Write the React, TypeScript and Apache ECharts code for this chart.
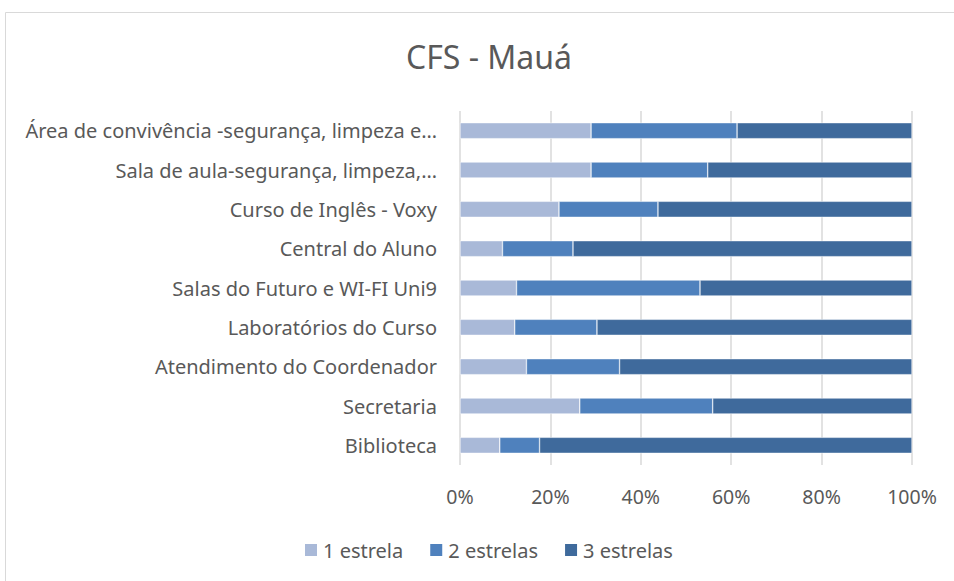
import React, { useEffect, useRef } from "react";
import * as echarts from "echarts";

const categories = [
  "Área de convivência -segurança, limpeza e…",
  "Sala de aula-segurança, limpeza,…",
  "Curso de Inglês - Voxy",
  "Central do Aluno",
  "Salas do Futuro e WI-FI Uni9",
  "Laboratórios do Curso",
  "Atendimento do Coordenador",
  "Secretaria",
  "Biblioteca",
];

const seriesNames = ["1 estrela", "2 estrelas", "3 estrelas"];

const umaEstrela = [29.0, 29.0, 21.9, 9.4, 12.5, 12.1, 14.7, 26.5, 8.8];
const duasEstrelas = [32.3, 25.8, 21.9, 15.6, 40.6, 18.2, 20.6, 29.4, 8.8];
const tresEstrelas = [38.7, 45.2, 56.2, 75.0, 46.9, 69.7, 64.7, 44.1, 82.4];

const xTicks = [0, 20, 40, 60, 80, 100];

const colors = ["#A9B9D8", "#4F81BD", "#3F6A9C"];
const FONT = "Noto Sans";

export default function App() {
  const ref = useRef<HTMLDivElement>(null);

  useEffect(() => {
    if (!ref.current) return;
    const chart = echarts.init(ref.current, undefined, { renderer: "svg" });
    const values = [umaEstrela, duasEstrelas, tresEstrelas];
    chart.setOption({
      animation: false,
      backgroundColor: "#ffffff",
      color: colors,
      title: {
        text: "CFS - Mauá",
        left: 401,
        top: 35,
        textStyle: {
          fontFamily: FONT,
          fontSize: 32,
          fontWeight: "normal",
          color: "#595959",
        },
      },
      graphic: [
        {
          type: "rect",
          shape: { x: 5.5, y: 12.5, width: 1000, height: 700 },
          style: { fill: "none", stroke: "#D9D9D9", lineWidth: 1 },
          silent: true,
        },
      ],
      legend: {
        data: seriesNames,
        left: 298,
        top: 535,
        itemWidth: 14,
        itemHeight: 14,
        itemGap: 25,
        icon: "rect",
        textStyle: { fontFamily: FONT, fontSize: 20, color: "#595959" },
      },
      grid: {
        left: 460,
        right: 42,
        top: 111,
        bottom: 116,
        containLabel: false,
      },
      xAxis: {
        type: "value",
        min: xTicks[0],
        max: xTicks[xTicks.length - 1],
        interval: 20,
        axisLine: { show: false },
        axisTick: { show: false },
        splitLine: { lineStyle: { color: "#D9D9D9", width: 1.5 } },
        axisLabel: {
          formatter: "{value}%",
          fontFamily: FONT,
          fontSize: 19.5,
          color: "#595959",
          margin: 21,
        },
      },
      yAxis: {
        type: "category",
        data: categories,
        inverse: true,
        axisLine: { show: false },
        axisTick: { show: false },
        axisLabel: {
          fontFamily: FONT,
          fontSize: 20,
          color: "#595959",
          margin: 23,
        },
      },
      series: seriesNames.map((name, i) => ({
        name,
        type: "bar",
        stack: "total",
        data: values[i],
        barWidth: 16,
        itemStyle: { color: colors[i], borderColor: "#ffffff", borderWidth: 0.5 },
      })),
    });
    return () => chart.dispose();
  }, []);

  return (
    <div
      ref={ref}
      style={{ position: "absolute", left: 0, top: 0, width: 954, height: 581 }}
    />
  );
}
